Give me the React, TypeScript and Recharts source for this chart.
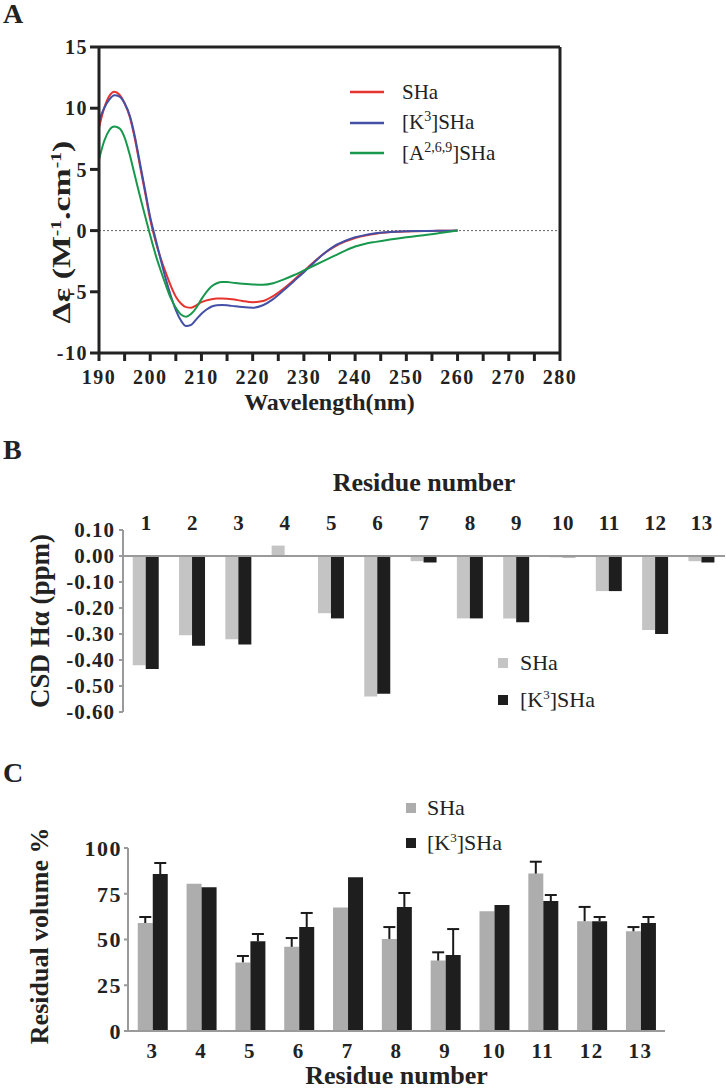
import React from "react"
import {
  LineChart,
  Line,
  BarChart,
  Bar,
  XAxis,
  YAxis,
  ReferenceLine,
  Legend,
  Label,
  Rectangle,
} from "recharts"

const serif = "'Liberation Serif', 'Times New Roman', serif"
const ink = "#222"
const axisGray = "#9a9a9a"

// ---- panel A: CD spectra ----
const wavelengths = [
  190, 191, 192, 193, 194, 195, 196, 197, 198, 199, 200, 201, 202, 203, 204, 205, 206, 207, 208, 209,
  210, 211, 212, 213, 214, 215, 216, 218, 220, 222, 224, 226, 228, 230, 232, 234, 236, 238, 240, 242,
  244, 246, 248, 250, 252, 254, 256, 258, 260,
]
const cdSHa = [
  8.4, 10.0, 11.0, 11.35, 11.1, 10.4, 9.3, 7.5, 5.3, 3.1, 0.9, -0.8, -2.2, -3.4, -4.5, -5.4, -5.95, -6.25, -6.3, -6.1,
  -5.85, -5.7, -5.6, -5.55, -5.55, -5.56, -5.6, -5.75, -5.85, -5.75, -5.35, -4.75, -4.05, -3.3, -2.55, -1.85, -1.3, -0.9, -0.6, -0.4,
  -0.25, -0.16, -0.1, -0.07, -0.05, -0.03, -0.02, -0.01, 0,
]
const cdK3 = [
  9.0, 10.0, 10.7, 11.05, 10.95, 10.4, 9.4, 7.7, 5.5, 3.3, 1.1, -0.6, -2.3, -3.9, -5.3, -6.5, -7.35, -7.8, -7.7, -7.25,
  -6.8, -6.45, -6.2, -6.1, -6.08, -6.1, -6.15, -6.25, -6.3, -6.1, -5.6, -4.9, -4.15, -3.4, -2.6, -1.85, -1.25, -0.85, -0.55, -0.36,
  -0.22, -0.14, -0.09, -0.06, -0.04, -0.03, -0.02, -0.01, 0,
]
const cdA269 = [
  5.8, 7.3, 8.2, 8.5, 8.35, 7.6, 6.2, 4.5, 2.8, 1.2, -0.4, -1.9, -3.2, -4.4, -5.5, -6.3, -6.85, -7.03, -6.8, -6.3,
  -5.6, -5.0, -4.55, -4.3, -4.2, -4.2, -4.25, -4.35, -4.4, -4.42, -4.3, -4.0, -3.65, -3.25, -2.85, -2.45, -2.05, -1.65, -1.3, -1.07,
  -0.92, -0.78, -0.66, -0.55, -0.45, -0.34, -0.23, -0.12, 0,
]
const cdTicksX = [190, 195, 200, 205, 210, 215, 220, 225, 230, 235, 240, 245, 250, 255, 260, 265, 270, 275, 280]
const cdTicksY = [-10, -5, 0, 5, 10, 15]

// ---- panel B: CSD Halpha ----
const residuesB = ["1", "2", "3", "4", "5", "6", "7", "8", "9", "10", "11", "12", "13"]
const csdSHa = [-0.42, -0.305, -0.32, 0.04, -0.22, -0.54, -0.02, -0.24, -0.24, -0.005, -0.135, -0.285, -0.02]
const csdK3 = [-0.435, -0.345, -0.34, 0, -0.24, -0.53, -0.025, -0.24, -0.255, -0.005, -0.135, -0.3, -0.025]
const csdTicks = [0.1, 0, -0.1, -0.2, -0.3, -0.4, -0.5, -0.6]

// ---- panel C: residual volume ----
const residuesC = ["3", "4", "5", "6", "7", "8", "9", "10", "11", "12", "13"]
const volSHa = [59, 80.5, 37.5, 46, 67.5, 50.3, 38.5, 65.5, 86, 60, 54.5]
const volSHaErr = [3.3, 0, 3.5, 4.8, 0, 6.5, 4.5, 0, 6.5, 7.8, 2.3]
const volK3 = [85.8, 78.5, 49, 56.8, 84, 67.8, 41.5, 68.8, 71, 60, 59]
const volK3Err = [6, 0, 4, 7.7, 0, 7.6, 14.2, 0, 3.3, 2.3, 3.3]
const volTicks = [0, 25, 50, 75, 100]

const nameSHa = "SHa"
const nameK3 = "[K^3]SHa"
const nameA269 = "[A^2,6,9]SHa"
const legendOrder = [nameSHa, nameK3, nameA269]

const cdData = wavelengths.map((wl, i) => ({ wl, sha: cdSHa[i], k3: cdK3[i], a269: cdA269[i] }))
const csdData = residuesB.map((res, i) => ({ res, sha: csdSHa[i], k3: csdK3[i] }))
const volData = residuesC.map((res, i) => ({
  res,
  sha: volSHa[i],
  shaErr: volSHaErr[i],
  k3: volK3[i],
  k3Err: volK3Err[i],
}))
const boundTicks = [...residuesC.map((_, i) => i), residuesC.length]

const byLegendOrder = (item: any) => legendOrder.indexOf(item.value)

// "[K^3]SHa" -> [K<sup>3</sup>]SHa
function withSup(name: string, supSize: number) {
  const m = name.match(/^(.*)\^([^\]]+)(.*)$/)
  if (!m) return name
  return (
    <>
      {m[1]}
      <sup style={{ fontSize: supSize, lineHeight: 0 }}>{m[2]}</sup>
      {m[3]}
    </>
  )
}

const LineLegend = ({ payload }: any) => {
  const items = [...(payload || [])].sort((a: any, b: any) => byLegendOrder(a) - byLegendOrder(b))
  return (
    <div style={{ fontFamily: serif, fontSize: 21, color: ink }}>
      {items.map((p: any) => (
        <div key={p.value} style={{ display: "flex", alignItems: "center", height: 30.5 }}>
          <svg width={34} height={4} style={{ marginRight: 18 }}>
            <line x1={0} y1={2} x2={34} y2={2} stroke={p.color} strokeWidth={2.5} />
          </svg>
          <span>{withSup(p.value, 14)}</span>
        </div>
      ))}
    </div>
  )
}

const boxLegend = (rowHeight: number, gap: number) => ({ payload }: any) => {
  const items = [...(payload || [])].sort((a: any, b: any) => byLegendOrder(a) - byLegendOrder(b))
  return (
    <div style={{ fontFamily: serif, fontSize: 22, color: ink }}>
      {items.map((p: any) => (
        <div key={p.value} style={{ display: "flex", alignItems: "center", height: rowHeight }}>
          <span style={{ width: 10, height: 10, background: p.color, marginRight: gap, display: "inline-block" }} />
          <span>{withSup(p.value, 13)}</span>
        </div>
      ))}
    </div>
  )
}

const rotatedLabel =
  (text: React.ReactNode, baselineX: number, centerFrac: number, fontSize: number, stretch = 1) =>
  (props: any) => {
    const vb = props.viewBox || { x: 0, y: 0, width: 0, height: 0 }
    const cx = vb.x + baselineX
    const cy = vb.y + vb.height * centerFrac
    return (
      <text
        transform={`translate(${cx},${cy}) rotate(-90) scale(${stretch},1)`}
        textAnchor="middle"
        fontFamily={serif}
        fontWeight={700}
        fontSize={fontSize}
        fill={ink}
      >
        {text}
      </text>
    )
  }

const cdLabelText = (
  <>
    Δε (M<tspan dy={-9} fontSize={15}>-1</tspan>
    <tspan dy={9}>.cm</tspan>
    <tspan dy={-9} fontSize={15}>-1</tspan>
    <tspan dy={9}>)</tspan>
  </>
)

// bar plus an upward-only error whisker, sized from the bar's own scale
const capBar = (valueKey: string, errKey: string) => (props: any) => {
  const { x, y, width, height, fill, payload } = props
  const value = payload[valueKey]
  const err = payload[errKey]
  const perUnit = value ? height / value : 0
  const top = y - err * perUnit
  const cx = x + width / 2
  return (
    <g>
      <Rectangle x={x} y={y} width={width} height={height} fill={fill} />
      {err > 0 && (
        <g stroke="#1a1a1a" strokeWidth={2}>
          <line x1={cx} y1={y} x2={cx} y2={top} />
          <line x1={cx - 6} y1={top} x2={cx + 6} y2={top} />
        </g>
      )}
    </g>
  )
}

const panelLetter = (letter: string, top: number) => (
  <div
    style={{
      position: "absolute",
      left: 3,
      top,
      fontFamily: serif,
      fontWeight: 700,
      fontSize: 28,
      lineHeight: 1,
      color: ink,
    }}
  >
    {letter}
  </div>
)

export default function App() {
  const boldTick = (size: number, spacing: number) => ({
    fontFamily: serif,
    fontSize: size,
    fontWeight: 700,
    fill: ink,
    letterSpacing: spacing,
  })

  return (
    <div style={{ position: "relative", width: 726, height: 1091, background: "#fff" }}>
      <style>{"body{margin:0}"}</style>
      {panelLetter("A", 0)}
      {panelLetter("B", 436)}
      {panelLetter("C", 759)}

      {/* A */}
      <div style={{ position: "absolute", left: 0, top: 0 }}>
        <LineChart width={600} height={430} data={cdData} margin={{ top: 47, right: 40, left: 0, bottom: 0 }}>
          <XAxis
            dataKey="wl"
            type="number"
            domain={[190, 280]}
            ticks={cdTicksX}
            interval={0}
            tickFormatter={(v: number) => (v % 10 === 0 ? String(v) : "")}
            height={77}
            tickSize={8}
            tickMargin={9}
            axisLine={{ stroke: ink, strokeWidth: 3 }}
            tickLine={{ stroke: ink, strokeWidth: 3 }}
            tick={boldTick(20, 1.5)}
          >
            <Label
              value="Wavelength(nm)"
              position="insideBottom"
              offset={20}
              style={{ fontFamily: serif, fontSize: 24, fontWeight: 700, fill: ink }}
            />
          </XAxis>
          <YAxis
            type="number"
            domain={[-10, 15]}
            ticks={cdTicksY}
            interval={0}
            width={99}
            tickSize={9}
            tickMargin={2}
            axisLine={{ stroke: ink, strokeWidth: 3 }}
            tickLine={{ stroke: ink, strokeWidth: 3 }}
            tick={boldTick(20, 1.5)}
            label={rotatedLabel(cdLabelText, 70, 0.605, 26, 1.3)}
          />
          <ReferenceLine y={0} stroke="#666" strokeWidth={1} strokeDasharray="2 2" />
          <ReferenceLine y={15} stroke={ink} strokeWidth={3} />
          <ReferenceLine x={280} stroke={ink} strokeWidth={3} />
          <Line type="monotone" dataKey="sha" name={nameSHa} stroke="#e5332d" strokeWidth={2} dot={false} isAnimationActive={false} />
          <Line type="monotone" dataKey="k3" name={nameK3} stroke="#4350a6" strokeWidth={2} dot={false} isAnimationActive={false} />
          <Line type="monotone" dataKey="a269" name={nameA269} stroke="#17984c" strokeWidth={2} dot={false} isAnimationActive={false} />
          <Legend
            layout="vertical"
            align="center"
            verticalAlign="middle"
            itemSorter={byLegendOrder}
            content={LineLegend}
            wrapperStyle={{ left: 350, top: 77, width: "auto" }}
          />
        </LineChart>
      </div>

      {/* B */}
      <div style={{ position: "absolute", left: 0, top: 450 }}>
        <BarChart
          width={726}
          height={290}
          data={csdData}
          margin={{ top: 0, right: 1, left: 0, bottom: 28 }}
          barCategoryGap="21%"
          barGap={0}
        >
          <XAxis
            dataKey="res"
            orientation="top"
            height={80}
            interval={0}
            tickSize={0}
            tickMargin={0}
            axisLine={false}
            tickLine={false}
            tick={boldTick(21, 0.5)}
          >
            <Label
              value="Residue number"
              position="insideTop"
              offset={23}
              style={{ fontFamily: serif, fontSize: 26, fontWeight: 700, fill: ink }}
            />
          </XAxis>
          <YAxis
            type="number"
            domain={[-0.6, 0.1]}
            ticks={csdTicks}
            interval={0}
            width={123}
            tickSize={4}
            tickMargin={4}
            tickFormatter={(v: number) => v.toFixed(2)}
            axisLine={{ stroke: axisGray, strokeWidth: 2 }}
            tickLine={{ stroke: axisGray, strokeWidth: 2 }}
            tick={boldTick(21, 1)}
            label={rotatedLabel("CSD Hα (ppm)", 49, 0.5, 27)}
          />
          <ReferenceLine y={0} stroke={axisGray} strokeWidth={2} />
          <Bar dataKey="sha" name={nameSHa} fill="#c4c4c4" isAnimationActive={false} />
          <Bar dataKey="k3" name={nameK3} fill="#1e1e1e" isAnimationActive={false} />
          <Legend
            layout="vertical"
            align="center"
            verticalAlign="middle"
            itemSorter={byLegendOrder}
            content={boxLegend(37, 12)}
            wrapperStyle={{ left: 498, top: 194, width: "auto" }}
          />
        </BarChart>
      </div>

      {/* C */}
      <div style={{ position: "absolute", left: 0, top: 740 }}>
        <BarChart
          width={726}
          height={351}
          data={volData}
          margin={{ top: 108, right: 61, left: 0, bottom: 0 }}
          barCategoryGap="20%"
          barGap={0}
        >
          <XAxis
            xAxisId="bounds"
            type="number"
            domain={[0, residuesC.length]}
            ticks={boundTicks}
            interval={0}
            height={0}
            tick={false}
            axisLine={false}
            tickSize={5}
            tickLine={{ stroke: axisGray, strokeWidth: 2 }}
          />
          <XAxis
            dataKey="res"
            height={60}
            interval={0}
            tickSize={6}
            tickMargin={6}
            tickLine={false}
            axisLine={{ stroke: axisGray, strokeWidth: 2 }}
            tick={boldTick(21, 1.5)}
          >
            <Label
              value="Residue number"
              position="insideBottom"
              offset={7}
              style={{ fontFamily: serif, fontSize: 26, fontWeight: 700, fill: ink }}
            />
          </XAxis>
          <YAxis
            type="number"
            domain={[0, 100]}
            ticks={volTicks}
            interval={0}
            width={128}
            tickSize={4}
            tickMargin={2}
            axisLine={{ stroke: axisGray, strokeWidth: 2 }}
            tickLine={{ stroke: axisGray, strokeWidth: 2 }}
            tick={boldTick(22, 1.5)}
            label={rotatedLabel("Residual volume %", 48, 0.48, 26)}
          />
          <Bar dataKey="sha" name={nameSHa} fill="#adadad" shape={capBar("sha", "shaErr")} isAnimationActive={false} />
          <Bar dataKey="k3" name={nameK3} fill="#1e1e1e" shape={capBar("k3", "k3Err")} isAnimationActive={false} />
          <Legend
            layout="vertical"
            align="center"
            verticalAlign="middle"
            itemSorter={byLegendOrder}
            content={boxLegend(35, 11)}
            wrapperStyle={{ left: 406, top: 50, width: "auto" }}
          />
        </BarChart>
      </div>
    </div>
  )
}
